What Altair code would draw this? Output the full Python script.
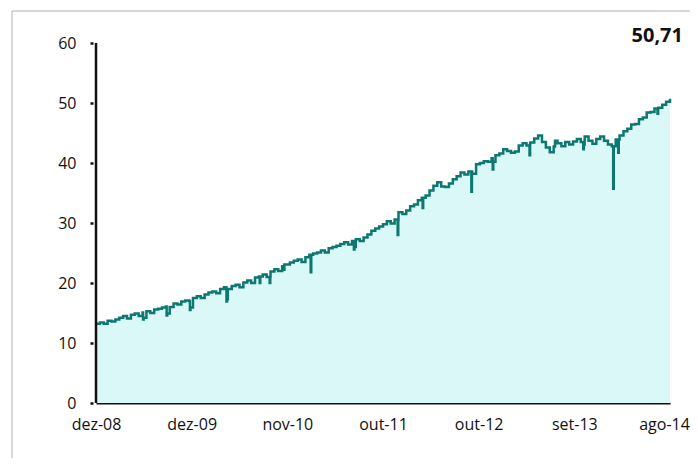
import altair as alt
import pandas as pd

# ---- data ----
start_date = "2008-12-01"
n_points = 149  # bi-weekly observations
values = [
    13.2, 13.4, 13.2, 13.7, 13.6, 13.9, 14.2, 14.5, 14.1, 14.7,
    14.9, 14.5, 15.1, 15.3, 15.0, 15.6, 15.7, 15.9, 16.1, 16.0,
    16.6, 16.4, 16.9, 17.1, 17.0, 17.5, 17.8, 17.5, 18.1, 18.4,
    18.6, 18.3, 19.0, 19.3, 19.0, 19.5, 19.7, 19.3, 20.1, 20.4,
    20.0, 20.9, 21.1, 21.4, 21.0, 21.9, 22.3, 22.0, 22.8, 23.1,
    23.4, 23.7, 23.9, 23.5, 24.3, 24.7, 24.9, 25.1, 25.4, 25.1,
    25.8, 26.0, 26.2, 26.5, 26.8, 26.4, 27.0, 27.3, 27.0, 27.6,
    28.1, 28.7, 29.1, 29.4, 29.8, 30.3, 29.9, 30.6, 31.8, 31.5,
    32.1, 32.8, 33.1, 33.8, 34.2, 34.6, 35.4, 36.2, 36.8, 36.1,
    36.0, 36.6, 37.3, 37.8, 38.4, 38.1, 38.6, 38.2, 39.8, 40.0,
    40.3, 40.2, 40.8, 41.3, 41.6, 42.3, 42.0, 41.7, 41.9, 42.9,
    43.3, 42.9, 43.4, 44.1, 44.6, 43.5, 42.6, 41.8, 42.7, 43.3,
    42.8, 43.5, 43.1, 43.6, 44.0, 43.5, 44.4, 43.7, 43.2, 44.0,
    44.4, 43.7, 43.1, 42.8, 43.9, 44.6, 45.3, 45.7, 46.4, 46.5,
    47.3, 47.6, 48.4, 48.5, 49.1, 49.2, 49.7, 50.2, 50.71,
]
dip_dates = ["2009-05-20", "2009-08-13", "2009-11-05", "2010-03-17", "2010-07-15",
             "2010-08-20", "2010-10-10", "2011-01-15", "2011-06-20", "2011-11-25",
             "2012-02-23", "2012-08-17", "2012-11-02", "2013-03-15", "2013-06-13",
             "2013-09-25", "2014-01-11", "2014-01-29", "2014-06-20"]
dip_low = [13.9, 14.6, 15.5, 16.9, 20.0, 20.0, 22.2, 21.8, 25.6, 28.0,
           32.5, 35.2, 38.9, 41.3, 42.8, 42.3, 35.7, 41.7, 48.2]
dip_back = [14.2, 14.9, 15.9, 17.3, 21.1, 21.0, 23.1, 24.7, 26.0, 30.6,
            34.2, 38.6, 40.2, 43.3, 43.7, 43.1, 42.8, 43.9, 49.1]
tick_labels = ["dez-08", "dez-09", "nov-10", "out-11", "out-12", "set-13", "ago-14"]
last_label = ["50,71"]

# ---- build table ----
dates = pd.date_range(start_date, periods=n_points, freq="14D")
base = pd.DataFrame({"date": dates.strftime("%Y-%m-%d"), "value": values})
d_low = pd.DataFrame({"date": dip_dates, "value": dip_low})
d_back = pd.DataFrame({
    "date": (pd.to_datetime(dip_dates) + pd.Timedelta(days=2)).strftime("%Y-%m-%d"),
    "value": dip_back,
})
df = (pd.concat([base, d_low, d_back])
      .drop_duplicates("date", keep="first")
      .sort_values("date").reset_index(drop=True))

t0 = pd.Timestamp(base["date"].iloc[0], tz="UTC")
t1 = pd.Timestamp(base["date"].iloc[-1], tz="UTC")
ms0 = int(t0.timestamp() * 1000)
ms1 = int(t1.timestamp() * 1000)
tick_ms = [ms0 + (ms1 - ms0) * k / 6 for k in range(7)]
label_arr = "[" + ",".join("'%s'" % s for s in tick_labels) + "]"

FONT = "Open Sans"
W, H = 574, 360

x_enc = alt.X(
    "date:T",
    scale=alt.Scale(domain=[ms0, ms1]),
    axis=alt.Axis(
        title=None, values=tick_ms, labelExpr=label_arr + "[round(datum.index*6)]",
        tickSize=0, labelPadding=13, labelFlush=False, labelOverlap=False,
        labelOffset={"condition": {"test": "datum.index > 0.99", "value": -6}, "value": 0},
        domainColor="#111111", domainWidth=2, grid=False,
        labelFont=FONT, labelFontSize=16, labelColor="#111111",
    ),
)
y_enc = alt.Y(
    "value:Q",
    scale=alt.Scale(domain=[0, 60]),
    axis=alt.Axis(
        title=None, values=[0, 10, 20, 30, 40, 50, 60], offset=3, domain=False,
        tickSize=3, tickWidth=2.5, tickColor="#111111", labelPadding=14,
        grid=False, labelFont=FONT, labelFontSize=16, labelColor="#111111",
    ),
)

area = alt.Chart(df).mark_area(interpolate="step-after", color="#dbf8f8", opacity=1).encode(
    x=x_enc, y=y_enc
)
line = alt.Chart(df).mark_line(interpolate="step-after", color="#0c7870", strokeWidth=2.5).encode(
    x="date:T", y="value:Q"
)
yaxis_line = alt.Chart(alt.Data(values=[{}])).mark_rule(color="#111111", strokeWidth=2.5).encode(
    x=alt.value(0), y=alt.value(0), y2=alt.value(H)
)
border = alt.Chart(alt.Data(values=[{}])).mark_rect(
    fill="transparent", stroke="#b4b4b4", strokeWidth=1
).encode(x=alt.value(-84), x2=alt.value(640), y=alt.value(-32), y2=alt.value(425))
label = alt.Chart(pd.DataFrame({"t": last_label})).mark_text(
    align="right", baseline="alphabetic", font=FONT, fontSize=20, fontWeight="bold", color="#111111"
).encode(x=alt.value(587), y=alt.value(-1), text="t:N")

chart = alt.layer(border, area, line, yaxis_line, label).properties(
    width=W, height=H,
    padding={"left": 88, "top": 35, "right": 20, "bottom": 55},
    autosize=alt.AutoSizeParams(type="none"),
).configure_view(stroke=None)

chart.save("out.html", embed_options={"renderer": "svg", "actions": False})
